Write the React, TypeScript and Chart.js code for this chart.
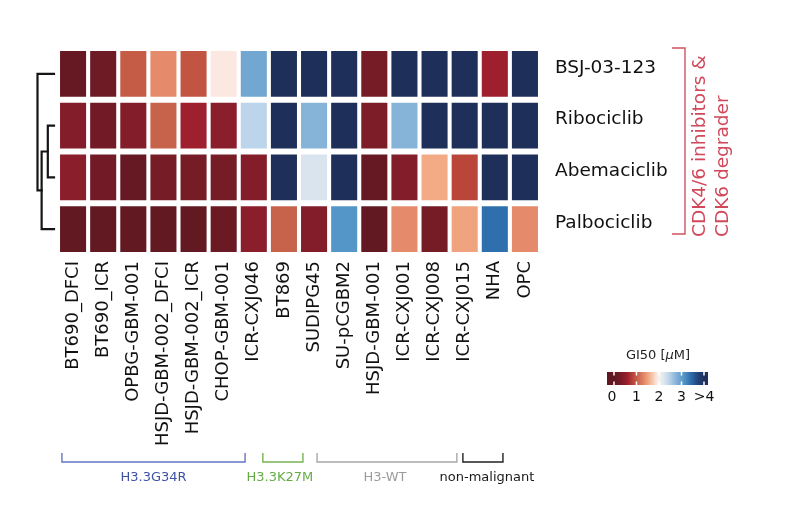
import React, { useEffect, useRef } from "react";
import { Chart, registerables } from "chart.js";

Chart.register(...registerables);

// ---------------- data ----------------
const CELL_LINES = [
  "BT690_DFCI", "BT690_ICR", "OPBG-GBM-001", "HSJD-GBM-002_DFCI", "HSJD-GBM-002_ICR",
  "CHOP-GBM-001", "ICR-CXJ046", "BT869", "SUDIPG45", "SU-pCGBM2", "HSJD-GBM-001",
  "ICR-CXJ001", "ICR-CXJ008", "ICR-CXJ015", "NHA", "OPC",
];
const DRUGS = ["BSJ-03-123", "Ribociclib", "Abemaciclib", "Palbociclib"];

// GI50 [µM], values capped at 4 (">4")
const GI50_BSJ = [0.1, 0.2, 1.0, 1.35, 0.95, 1.9, 2.9, 4, 4, 4, 0.3, 4, 4, 4, 0.6, 4];
const GI50_RIBOCICLIB = [0.4, 0.25, 0.4, 1.05, 0.6, 0.45, 2.45, 4, 2.75, 4, 0.35, 2.75, 4, 4, 4, 4];
const GI50_ABEMACICLIB = [0.45, 0.25, 0.1, 0.3, 0.3, 0.3, 0.4, 4, 2.25, 4, 0.1, 0.4, 1.55, 0.85, 4, 4];
const GI50_PALBOCICLIB = [0.05, 0.05, 0.05, 0.05, 0.05, 0.15, 0.45, 1.05, 0.4, 3.1, 0.05, 1.35, 0.3, 1.5, 3.4, 1.35];
const GI50_ROWS = [GI50_BSJ, GI50_RIBOCICLIB, GI50_ABEMACICLIB, GI50_PALBOCICLIB];

const LEGEND_TICK_VALUES = [0, 1, 2, 3, 4];
const LEGEND_TICK_LABELS = ["0", "1", "2", "3", ">4"];

// hierarchical clustering of the drugs: merges and relative heights
const DENDRO_MERGES = [["Ribociclib", "Abemaciclib"], ["#0", "Palbociclib"], ["BSJ-03-123", "#1"]];
const DENDRO_HEIGHTS = [0.375, 0.75, 1.0];

const GROUP_NAMES = ["H3.3G34R", "H3.3K27M", "H3-WT", "non-malignant"];
const GROUP_FIRST = ["BT690_DFCI", "BT869", "SU-pCGBM2", "NHA"];
const GROUP_LAST = ["ICR-CXJ046", "SUDIPG45", "ICR-CXJ015", "OPC"];

const SIDE_LABEL_LINES = ["CDK4/6 inhibitors &", "CDK6 degrader"];

// ---------------- colour map ----------------
const CMAP_VALUES = [0, 0.3, 0.6, 0.9, 1.05, 1.35, 1.55, 1.9, 2.0, 2.25, 2.45, 2.75, 3.1, 3.4, 3.7, 4.0];
const CMAP_COLORS = [
  "#5f1821", "#761c27", "#9e1f2d", "#bf4e3c", "#c8634b", "#e58b6b", "#f2ab84", "#fbe8e0",
  "#f6f4f3", "#d9e4ef", "#bcd5ea", "#86b3d8", "#5596c8", "#2f6fad", "#24467f", "#1e2f5a",
];

function hexToRgb(h: string) {
  return [parseInt(h.slice(1, 3), 16), parseInt(h.slice(3, 5), 16), parseInt(h.slice(5, 7), 16)];
}
function colorFor(v: number) {
  const x = Math.max(0, Math.min(4, v));
  for (let i = 0; i < CMAP_VALUES.length - 1; i++) {
    if (x <= CMAP_VALUES[i + 1]) {
      const t = (x - CMAP_VALUES[i]) / (CMAP_VALUES[i + 1] - CMAP_VALUES[i]);
      const a = hexToRgb(CMAP_COLORS[i]);
      const b = hexToRgb(CMAP_COLORS[i + 1]);
      const c = a.map((ai, k) => Math.round(ai + (b[k] - ai) * t));
      return `rgb(${c[0]},${c[1]},${c[2]})`;
    }
  }
  return CMAP_COLORS[CMAP_COLORS.length - 1];
}

const FONT = "DejaVu Sans";

// ---------------- plugins ----------------
const dendrogramPlugin = {
  id: "dendrogram",
  afterDraw(chart: any) {
    const ctx = chart.ctx;
    const ys = chart.scales.y;
    const leafX = chart.chartArea.left - 4;
    const span = 16.5;
    const pos: Record<string, { x: number; y: number }> = {};
    DRUGS.forEach((d, i) => (pos[d] = { x: leafX, y: ys.getPixelForValue(i + 0.5) }));
    ctx.save();
    ctx.strokeStyle = "#151515";
    ctx.lineWidth = 2.2;
    ctx.lineCap = "square";
    DENDRO_MERGES.forEach(([a, b], k) => {
      const nx = leafX - DENDRO_HEIGHTS[k] * span;
      const pa = pos[a];
      const pb = pos[b];
      ctx.beginPath();
      ctx.moveTo(pa.x, pa.y);
      ctx.lineTo(nx, pa.y);
      ctx.lineTo(nx, pb.y);
      ctx.lineTo(pb.x, pb.y);
      ctx.stroke();
      pos["#" + k] = { x: nx, y: (pa.y + pb.y) / 2 };
    });
    ctx.restore();
  },
};

const sideLabelPlugin = {
  id: "sideLabel",
  afterDraw(chart: any) {
    const ctx = chart.ctx;
    const ys = chart.scales.y;
    const top = ys.getPixelForValue(0);
    const bottom = ys.getPixelForValue(4) - 21;
    const bx = 685;
    ctx.save();
    ctx.strokeStyle = "#d2525f";
    ctx.lineWidth = 1.4;
    ctx.beginPath();
    ctx.moveTo(bx - 13, top);
    ctx.lineTo(bx, top);
    ctx.lineTo(bx, bottom);
    ctx.lineTo(bx - 13, bottom);
    ctx.stroke();
    ctx.fillStyle = "#d0485a";
    ctx.font = `18.5px "${FONT}"`;
    ctx.textAlign = "left";
    ctx.textBaseline = "middle";
    SIDE_LABEL_LINES.forEach((line, i) => {
      ctx.save();
      ctx.translate(700 + i * 23, bottom + 3);
      ctx.rotate(-Math.PI / 2);
      ctx.fillText(line, 0, 0);
      ctx.restore();
    });
    ctx.restore();
  },
};

const colorbarPlugin = {
  id: "colorbar",
  afterDraw(chart: any) {
    const ctx = chart.ctx;
    const x0 = 614;
    const unit = 22.5;
    const barL = 607;
    const barR = 708;
    const barT = 372;
    const barB = 385;
    const vx = (v: number) => x0 + v * unit;
    ctx.save();
    // title
    ctx.fillStyle = "#222";
    ctx.textBaseline = "middle";
    const p1 = "GI50 [";
    const p2 = "\u00b5";
    const p3 = "M]";
    ctx.font = `13px "${FONT}"`;
    const w1 = ctx.measureText(p1).width;
    const w3 = ctx.measureText(p3).width;
    ctx.font = `italic 13px "${FONT}"`;
    const w2 = ctx.measureText(p2).width;
    let tx = 658 - (w1 + w2 + w3) / 2;
    const ty = 356;
    ctx.textAlign = "left";
    ctx.font = `13px "${FONT}"`;
    ctx.fillText(p1, tx, ty);
    tx += w1;
    ctx.font = `italic 13px "${FONT}"`;
    ctx.fillText(p2, tx, ty);
    tx += w2;
    ctx.font = `13px "${FONT}"`;
    ctx.fillText(p3, tx, ty);
    // gradient bar
    const g = ctx.createLinearGradient(barL, 0, barR, 0);
    for (let i = 0; i <= 40; i++) {
      const px = barL + ((barR - barL) * i) / 40;
      const v = (px - x0) / unit;
      g.addColorStop(i / 40, colorFor(v));
    }
    ctx.fillStyle = g;
    ctx.fillRect(barL, barT, barR - barL, barB - barT);
    ctx.strokeStyle = "#ffffff";
    ctx.lineWidth = 1.5;
    LEGEND_TICK_VALUES.forEach((v) => {
      const px = vx(v);
      ctx.beginPath();
      ctx.moveTo(px, barT);
      ctx.lineTo(px, barT + 3.5);
      ctx.moveTo(px, barB - 3.5);
      ctx.lineTo(px, barB);
      ctx.stroke();
    });
    ctx.fillStyle = "#111";
    ctx.font = `14px "${FONT}"`;
    ctx.textAlign = "center";
    LEGEND_TICK_VALUES.forEach((v, i) => {
      ctx.fillText(LEGEND_TICK_LABELS[i], vx(v) - (i === 0 ? 2 : 0), 397);
    });
    ctx.restore();
  },
};

const groupBracketPlugin = {
  id: "groupBrackets",
  afterDraw(chart: any, _args: any, opts: any) {
    const ctx = chart.ctx;
    const xs = chart.scales.x;
    const yTop = 453;
    const yBot = 462;
    ctx.save();
    ctx.lineWidth = 1.4;
    ctx.font = `13px "${FONT}"`;
    ctx.textAlign = "center";
    ctx.textBaseline = "middle";
    GROUP_NAMES.forEach((name, i) => {
      const first = CELL_LINES.indexOf(GROUP_FIRST[i]);
      const last = CELL_LINES.indexOf(GROUP_LAST[i]);
      const [dl, dr] = opts.shift[i];
      const l = xs.getPixelForValue(first - 0.5 + dl);
      const r = xs.getPixelForValue(last + 0.5 + dr);
      ctx.strokeStyle = opts.lineColors[i];
      ctx.beginPath();
      ctx.moveTo(l, yTop);
      ctx.lineTo(l, yBot);
      ctx.lineTo(r, yBot);
      ctx.lineTo(r, yTop);
      ctx.stroke();
      ctx.fillStyle = opts.textColors[i];
      ctx.fillText(name, (l + r) / 2 + opts.textDx[i], 478);
    });
    ctx.restore();
  },
};

// ---------------- component ----------------
export default function App() {
  const canvasRef = useRef<HTMLCanvasElement | null>(null);

  useEffect(() => {
    if (!canvasRef.current) return;
    const chart = new Chart(canvasRef.current, {
      type: "bar",
      data: {
        labels: CELL_LINES,
        datasets: GI50_ROWS.map((vals, r) => ({
          label: DRUGS[r],
          data: vals.map(() => [r + 0.06, r + 0.94]),
          backgroundColor: vals.map(colorFor),
          borderWidth: 0,
          grouped: false,
          barPercentage: 0.865,
          categoryPercentage: 1,
        })),
      } as any,
      options: {
        animation: false,
        responsive: false,
        devicePixelRatio: 1,
        layout: { padding: { left: 58, top: 48, right: 0, bottom: 0 } },
        plugins: {
          legend: { display: false },
          tooltip: { enabled: false },
          groupBrackets: {
            shift: [[0.13, -0.79], [-0.2, -0.87], [-0.4, -0.76], [-0.56, -1.23]],
            lineColors: ["#6576c4", "#74b553", "#a8a8a8", "#222222"],
            textColors: ["#3e51a6", "#64ad45", "#9c9c9c", "#1a1a1a"],
            textDx: [0, -3, -2, 4],
          },
        } as any,
        scales: {
          x: {
            type: "category",
            offset: true,
            grid: { display: false, drawTicks: false },
            border: { display: false },
            ticks: {
              autoSkip: false,
              minRotation: 90,
              maxRotation: 90,
              padding: 6,
              color: "#111",
              font: { family: FONT, size: 18 },
            },
            afterFit: (s: any) => {
              s.height = 263;
            },
          },
          y: {
            type: "linear",
            position: "right",
            min: 0,
            max: 4,
            reverse: true,
            grid: { display: false, drawTicks: false },
            border: { display: false },
            afterBuildTicks: (s: any) => {
              s.ticks = DRUGS.map((_, i) => ({ value: i + 0.5 }));
            },
            ticks: {
              callback: (_v: any, i: number) => DRUGS[i],
              padding: 15,
              labelOffset: -6,
              color: "#111",
              font: { family: FONT, size: 18.5 },
            },
            afterFit: (s: any) => {
              s.width = 260;
            },
          },
        },
      } as any,
      plugins: [dendrogramPlugin, sideLabelPlugin, colorbarPlugin, groupBracketPlugin],
    });
    return () => chart.destroy();
  }, []);

  return (
    <div style={{ position: "fixed", left: 0, top: 0, width: 800, height: 518, background: "#ffffff" }}>
      <canvas ref={canvasRef} width={800} height={518} style={{ display: "block", width: 800, height: 518 }} />
    </div>
  );
}
